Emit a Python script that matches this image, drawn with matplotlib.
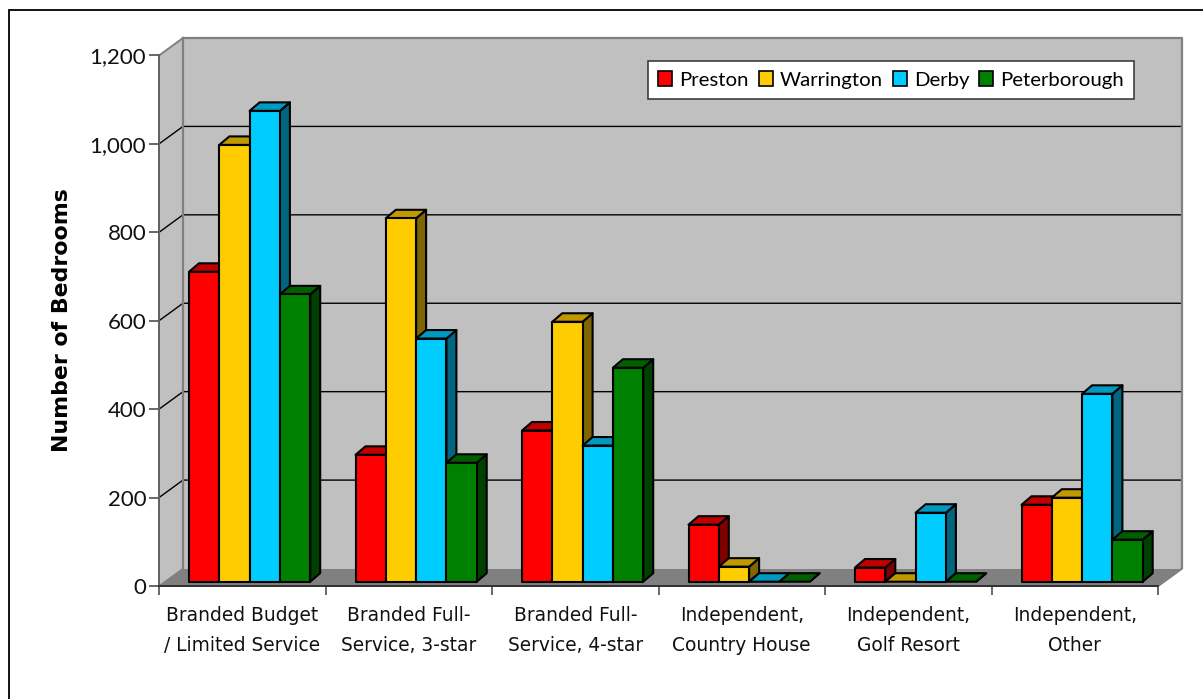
import numpy as np
import matplotlib
matplotlib.use('Agg')
from matplotlib import pyplot as plt
from matplotlib.lines import Line2D
from matplotlib.patches import Polygon, Rectangle

plt.rcParams['font.family'] = ['Lato', 'DejaVu Sans']

categories = ['Branded Budget\n/ Limited Service', 'Branded Full-\nService, 3-star',
              'Branded Full-\nService, 4-star', 'Independent,\nCountry House',
              'Independent,\nGolf Resort', 'Independent,\nOther']
preston = [701, 287, 342, 129, 32, 174]
warrington = [988, 822, 588, 34, 0, 190]
derby = [1065, 550, 308, 0, 156, 425]
peterborough = [650, 269, 484, 0, 0, 95]
yticks = [0, 200, 400, 600, 800, 1000, 1200]

series = [('Preston', preston, '#ff0000', '#c00000', '#800000'),
          ('Warrington', warrington, '#ffcc00', '#c09900', '#806600'),
          ('Derby', derby, '#00ccff', '#0099c0', '#006680'),
          ('Peterborough', peterborough, '#008000', '#006000', '#004000')]

W, H = 1203, 699
fig = plt.figure(figsize=(W / 100, H / 100), dpi=100)
left, right, bottom, top = 159, 1158, 586, 55.5
ax = fig.add_axes([left / W, 1 - bottom / H, (right - left) / W, (bottom - top) / H])
ax.set_xlim(0, 6)
ax.set_ylim(0, 1200)
ax.patch.set_visible(False)
for s in ax.spines.values():
    s.set_visible(False)

# pixel sizes converted to data units for the oblique projection
px = 6 / (right - left)
py = 1200 / (bottom - top)
wall_dx, wall_dy = 24 * px, 17.5 * py
bar_dx, bar_dy = 10 * px, 8.5 * py
base_dy = 4.3 * py
bar_w = 30.3 * px
bar_off = 30 * px


def poly(pts, fc, ec='none', lw=0, z=1):
    ax.add_patch(Polygon(pts, closed=True, facecolor=fc, edgecolor=ec, linewidth=lw,
                         zorder=z, clip_on=False, joinstyle='round'))


# floor and walls
poly([(0, 0), (wall_dx, wall_dy), (6 + wall_dx, wall_dy), (6, 0)], '#808080', z=1)
poly([(wall_dx, wall_dy), (6 + wall_dx, wall_dy), (6 + wall_dx, 1200 + wall_dy), (wall_dx, 1200 + wall_dy)],
     '#c0c0c0', z=1)
poly([(0, 0), (wall_dx, wall_dy), (wall_dx, 1200 + wall_dy), (0, 1200)], '#c0c0c0', z=1)

for t in yticks[1:-1]:
    ax.plot([0, wall_dx, 6 + wall_dx], [t, t + wall_dy, t + wall_dy], color='black', lw=1.0, zorder=2,
            clip_on=False)

edge = '#808080'
ax.plot([wall_dx, 6 + wall_dx, 6 + wall_dx, 6], [1200 + wall_dy, 1200 + wall_dy, wall_dy, 0],
        color=edge, lw=1.6, zorder=2, clip_on=False)
ax.plot([wall_dx, wall_dx], [wall_dy, 1200 + wall_dy], color=edge, lw=1.6, zorder=2, clip_on=False)
ax.plot([0, wall_dx], [1200, 1200 + wall_dy], color=edge, lw=1.4, zorder=2, clip_on=False)
ax.plot([0, wall_dx], [0, wall_dy], color=edge, lw=1.0, zorder=2, clip_on=False)
ax.plot([0, 0], [0, 1200], color='#606060', lw=1.4, zorder=2, clip_on=False)
ax.plot([0, 6], [0, 0], color='#303030', lw=1.4, zorder=2, clip_on=False)

# oblique bars, drawn series by series so nearer faces overlap correctly
for c in range(len(categories)):
    for k, (name, vals, front, lid, side) in enumerate(series):
        x0 = c + bar_off + k * bar_w
        x1 = x0 + bar_w
        y0, y1 = base_dy, base_dy + vals[c]
        z = 3 + c + k * 0.1
        poly([(x1, y0), (x1 + bar_dx, y0 + bar_dy), (x1 + bar_dx, y1 + bar_dy), (x1, y1)], side, 'black', 1.5, z)
        poly([(x0, y1), (x0 + bar_dx, y1 + bar_dy), (x1 + bar_dx, y1 + bar_dy), (x1, y1)], lid, 'black', 1.5, z)
        if vals[c] > 0:
            poly([(x0, y0), (x1, y0), (x1, y1), (x0, y1)], front, 'black', 1.5, z)

ax.set_xticks(range(7))
ax.set_xticklabels([])
ax.set_yticks(yticks)
ax.set_yticklabels(['{:,}'.format(t) for t in yticks], fontsize=16, color='#111111')
ax.tick_params(axis='y', length=7.2, width=1.1, color='#404040', pad=2)
ax.tick_params(axis='x', length=6.5, width=1.1, color='#404040')

for c, label in enumerate(categories):
    first, second = label.split('\n')
    ax.annotate(first, (c + 0.5, 0), xytext=(0, -21), textcoords='offset points', ha='center', va='center',
                fontsize=13.4, color='#111111', annotation_clip=False, family='DejaVu Sans')
    ax.annotate(second, (c + 0.5, 0), xytext=(0, -43), textcoords='offset points', ha='center', va='center',
                fontsize=13.4, color='#111111', annotation_clip=False, family='DejaVu Sans')

fig.text(62 / W, 1 - 320 / H, 'Number of Bedrooms', rotation=90, ha='center', va='center', fontsize=15.8,
         fontweight='bold', color='black', family='DejaVu Sans')

# legend box, one row
handles = [Rectangle((0, 0), 1, 1, facecolor=s[2], edgecolor='black', linewidth=1.2) for s in series]
leg = fig.legend(handles, [s[0] for s in series], ncol=4, loc='center',
                 bbox_to_anchor=(891 / W, 1 - 80 / H), fontsize=14.7, frameon=True, fancybox=False,
                 framealpha=1, edgecolor='#303030', handlelength=0.69, handleheight=0.69,
                 handletextpad=0.34, columnspacing=0.49, borderpad=0.5)
leg.get_frame().set_linewidth(1.1)
leg.set_zorder(20)

# chart frame only runs along the top and left
fig.add_artist(Line2D([8.7 / W, 8.7 / W, 1], [0, 1 - 9.5 / H, 1 - 9.5 / H], transform=fig.transFigure,
                      color='black', linewidth=1.3, solid_joinstyle='miter'))

fig.savefig('out.png', dpi=100)
